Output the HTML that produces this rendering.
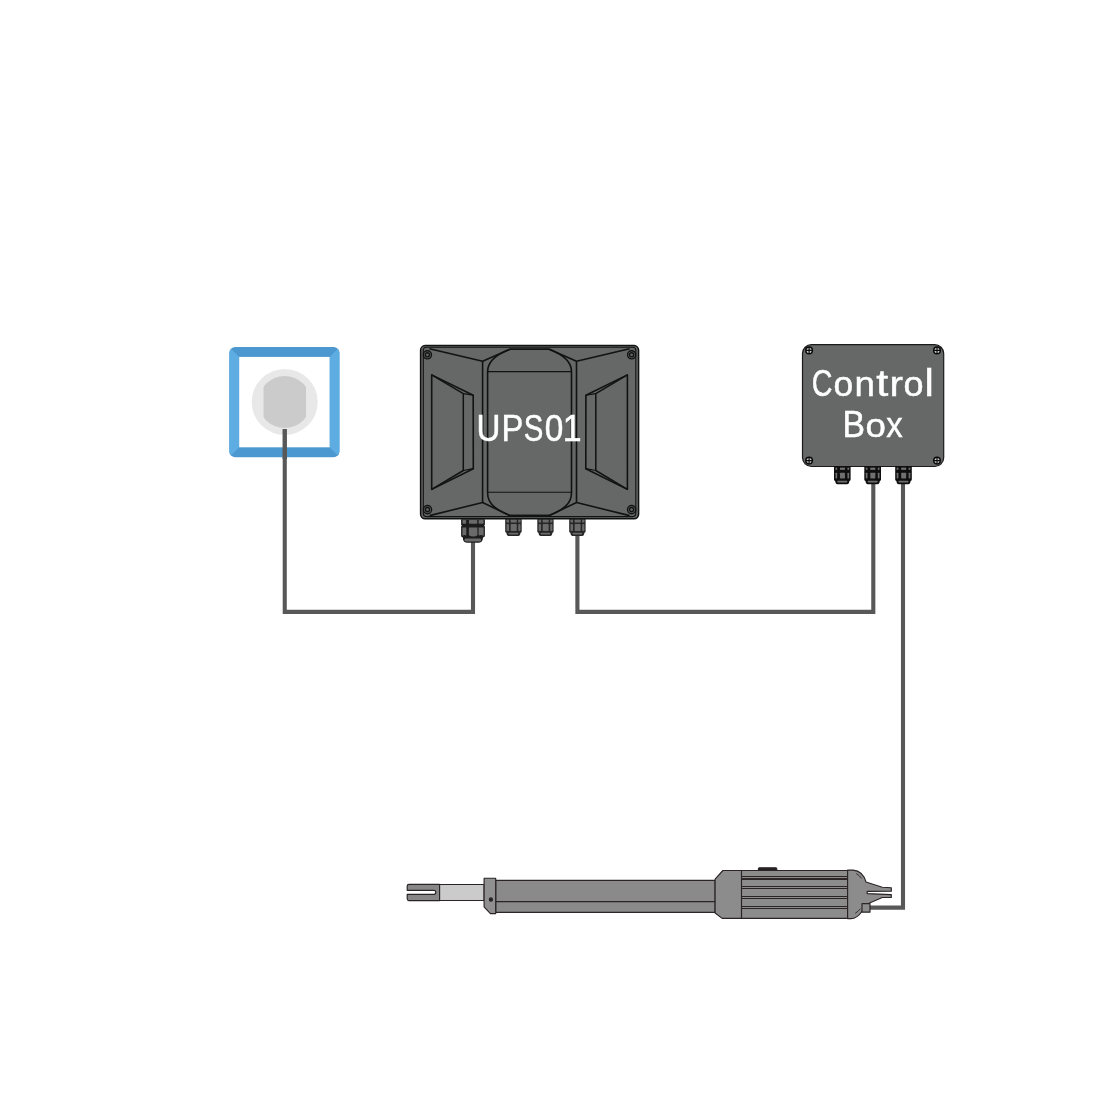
<!DOCTYPE html>
<html><head><meta charset="utf-8">
<style>
html,body{margin:0;padding:0;background:#fff;}
body{width:1101px;height:1101px;overflow:hidden;}
svg{display:block;will-change:transform;}
text{font-family:"Liberation Sans", sans-serif;fill:#fff;}
</style></head>
<body>
<svg width="1101" height="1101" viewBox="0 0 1101 1101">
<!-- wires -->
<g fill="none" stroke="#595858" stroke-width="4.1" stroke-linejoin="miter" stroke-linecap="butt">
  <polyline points="284.75,428 284.75,611.9 473,611.9 473,540"/>
  <polyline points="577.4,534 577.4,611.9 873.3,611.9 873.3,482"/>
  <polyline points="903,482 903,907.6 869,907.6"/>
</g>

<!-- socket -->
<g id="socket">
  <rect x="229.3" y="347" width="110.2" height="110.2" rx="6" fill="#4b97cf"/>
  <clipPath id="sq"><rect x="229.3" y="347" width="110.2" height="110.2" rx="6"/></clipPath>
  <polygon points="229.3,347 239.2,356.9 239.2,447.3 229.3,457.2" fill="#5dade2" clip-path="url(#sq)"/>
  <polygon points="339.5,347 329.6,356.9 329.6,447.3 339.5,457.2" fill="#5dade2" clip-path="url(#sq)"/>
  <rect x="239.2" y="356.9" width="90.4" height="90.4" fill="#fff"/>
  <circle cx="284.7" cy="402" r="33" fill="#e8e8e8"/>
  <clipPath id="sc"><rect x="263.5" y="370" width="42.5" height="65"/></clipPath>
  <circle cx="284.7" cy="402" r="26.1" fill="#cbcbcb" clip-path="url(#sc)"/>
  <rect x="282.55" y="429" width="4.4" height="30" fill="#595858"/>
</g>

<!-- UPS box -->
<g id="ups" stroke="#121212" stroke-linejoin="round">
  <rect x="420.6" y="345.6" width="218" height="173.2" rx="4.5" fill="#656866" stroke-width="1.5"/>
  <rect x="423.3" y="347.2" width="212.5" height="169.4" rx="3" fill="none" stroke-width="1.1"/>
  <g fill="none" stroke-width="1.6">
    <polyline points="429.5,348.7 482.6,361.3 509.9,349.3 549.2,349.3 576.5,361.3 629.6,348.7"/>
    <polyline points="429.5,515.6 482.6,502.5 509.9,515.6 549.2,515.6 576.5,502.5 629.6,515.6"/>
    <line x1="482.6" y1="361.3" x2="482.6" y2="502.5"/>
    <line x1="576.5" y1="361.3" x2="576.5" y2="502.5"/>
    <path d="M487.6,493 L487.6,371.5 C487.6,361 496.5,354.5 509.9,349.3 L549.2,349.3 C562.6,354.5 571.5,361 571.5,371.5 L571.5,493 C571.5,504 562.6,510 549.2,515.6 L509.9,515.6 C496.5,510 487.6,504 487.6,493 Z"/>
    <line x1="487.6" y1="371.6" x2="571.5" y2="371.6" stroke-width="1.1"/>
    <line x1="487.6" y1="492.2" x2="571.5" y2="492.2" stroke-width="1.1"/>
    <!-- left trapezoid -->
    <polygon points="431.7,374.9 473.2,395.2 473.3,468.7 431.7,489.4"/>
    <polyline points="431.7,374.9 463.3,393.6 463.3,470.5 431.7,489.4" stroke-width="1.5"/>
    <path d="M473.2,395.2 L463.3,393.6 M473.3,468.7 L463.3,470.5" stroke-width="1.2"/>
    <!-- right trapezoid -->
    <polygon points="627.4,374.9 585.9,395.2 585.8,468.7 627.4,489.4"/>
    <polyline points="627.4,374.9 595.8,393.6 595.8,470.5 627.4,489.4" stroke-width="1.5"/>
    <path d="M585.9,395.2 L595.8,393.6 M585.8,468.7 L595.8,470.5" stroke-width="1.2"/>
  </g>
  <g fill="none">
    <g stroke-width="1.4"><circle cx="427.4" cy="354.8" r="4.1"/><circle cx="631.6" cy="354.8" r="4.1"/><circle cx="427.5" cy="509.6" r="4.1"/><circle cx="631.6" cy="509.6" r="4.1"/></g>
    <g stroke-width="1.4"><circle cx="427.4" cy="354.8" r="2.1"/><circle cx="631.6" cy="354.8" r="2.1"/><circle cx="427.5" cy="509.6" r="2.1"/><circle cx="631.6" cy="509.6" r="2.1"/></g>
  </g>
</g>


<!-- UPS glands -->
<g id="uglands">
  <path d="M461.1,519.2 H484.9 V524.8 L484.2,525.6 L484.9,526.4 V535.6 Q484.9,537.4 483,537.6 L482.6,540 Q481.8,542.7 479,542.7 H466.7 Q463.9,542.7 463.1,540 L462.9,537.6 Q461.1,537.4 461.1,535.6 V526.4 L461.8,525.6 L461.1,524.8 Z" fill="#1c1c1c"/>
  <g fill="#6a6a6a">
    <rect x="462.4" y="519.9" width="3.8" height="3.9" rx="0.8"/>
    <rect x="468.9" y="519.9" width="8.4" height="3.9" rx="0.8"/>
    <rect x="478.6" y="519.9" width="5" height="3.9" rx="0.8"/>
    <path d="M462.4,527.4 H466.3 V535.4 Q464.5,534.6 462.4,535.8 Z"/>
    <path d="M468.9,527.4 H477.4 V535.2 Q476,536.6 473.2,536.6 Q470.4,536.6 468.9,535.2 Z"/>
    <path d="M478.6,527.4 H483.6 V535.8 Q481.5,534.6 478.6,535.4 Z"/>
    <rect x="464.6" y="538.4" width="16.4" height="3.1" rx="1.2"/>
  </g>
</g>
<g id="uglands2">
  <g><path d="M505.20,518.80 H521.70 V531.45 Q521.70,532.48 520.55,532.82 L520.05,534.70 Q519.39,535.90 518.07,535.90 H508.83 Q507.51,535.90 506.85,534.70 L506.36,532.82 Q505.20,532.48 505.20,531.45 Z" fill="#262626"/><rect x="506.52" y="519.83" width="2.48" height="2.57" rx="0.5" fill="#6a6a6a"/><rect x="506.52" y="524.10" width="2.48" height="6.84" rx="0.8" fill="#6a6a6a"/><rect x="510.64" y="519.83" width="6.11" height="2.57" rx="0.5" fill="#6a6a6a"/><rect x="510.64" y="524.10" width="6.11" height="6.84" rx="0.8" fill="#6a6a6a"/><rect x="518.24" y="519.83" width="2.31" height="2.57" rx="0.5" fill="#6a6a6a"/><rect x="518.24" y="524.10" width="2.31" height="6.84" rx="0.8" fill="#6a6a6a"/><rect x="508.50" y="532.65" width="9.90" height="1.88" rx="0.8" fill="#6a6a6a"/></g>
  <g><path d="M537.30,518.80 H553.60 V531.45 Q553.60,532.48 552.46,532.82 L551.97,534.70 Q551.32,535.90 550.01,535.90 H540.89 Q539.58,535.90 538.93,534.70 L538.44,532.82 Q537.30,532.48 537.30,531.45 Z" fill="#262626"/><rect x="538.60" y="519.83" width="2.45" height="2.57" rx="0.5" fill="#6a6a6a"/><rect x="538.60" y="524.10" width="2.45" height="6.84" rx="0.8" fill="#6a6a6a"/><rect x="542.68" y="519.83" width="6.03" height="2.57" rx="0.5" fill="#6a6a6a"/><rect x="542.68" y="524.10" width="6.03" height="6.84" rx="0.8" fill="#6a6a6a"/><rect x="550.18" y="519.83" width="2.28" height="2.57" rx="0.5" fill="#6a6a6a"/><rect x="550.18" y="524.10" width="2.28" height="6.84" rx="0.8" fill="#6a6a6a"/><rect x="540.56" y="532.65" width="9.78" height="1.88" rx="0.8" fill="#6a6a6a"/></g>
  <g><path d="M569.20,518.80 H585.60 V531.45 Q585.60,532.48 584.45,532.82 L583.96,534.70 Q583.30,535.90 581.99,535.90 H572.81 Q571.50,535.90 570.84,534.70 L570.35,532.82 Q569.20,532.48 569.20,531.45 Z" fill="#262626"/><rect x="570.51" y="519.83" width="2.46" height="2.57" rx="0.5" fill="#6a6a6a"/><rect x="570.51" y="524.10" width="2.46" height="6.84" rx="0.8" fill="#6a6a6a"/><rect x="574.61" y="519.83" width="6.07" height="2.57" rx="0.5" fill="#6a6a6a"/><rect x="574.61" y="524.10" width="6.07" height="6.84" rx="0.8" fill="#6a6a6a"/><rect x="582.16" y="519.83" width="2.30" height="2.57" rx="0.5" fill="#6a6a6a"/><rect x="582.16" y="524.10" width="2.30" height="6.84" rx="0.8" fill="#6a6a6a"/><rect x="572.48" y="532.65" width="9.84" height="1.88" rx="0.8" fill="#6a6a6a"/></g>
</g>

<!-- Control box -->
<g id="cbox" stroke="#1b1b1b">
  <rect x="802.5" y="344.6" width="141.2" height="121.9" rx="9" fill="#656866" stroke-width="1.2"/>
  <g stroke="#0a0a0a">
    <circle cx="809.1" cy="350.4" r="3.3" fill="#c9c9c9" stroke-width="1.5"/><circle cx="937" cy="350.4" r="3.3" fill="#c9c9c9" stroke-width="1.5"/>
    <circle cx="809.1" cy="460.6" r="3.3" fill="#c9c9c9" stroke-width="1.5"/><circle cx="937" cy="460.6" r="3.3" fill="#c9c9c9" stroke-width="1.5"/>
    <path d="M805.8,350.4h6.6M809.1,347.1v6.6M933.7,350.4h6.6M937,347.1v6.6M805.8,460.6h6.6M809.1,457.3v6.6M933.7,460.6h6.6M937,457.3v6.6" stroke-width="1.2"/>
  </g>
</g>
<g id="cglands">
  <g><path d="M834.00,466.00 H850.60 V479.54 Q850.60,480.64 849.44,481.01 L848.94,483.02 Q848.28,484.30 846.95,484.30 H837.65 Q836.32,484.30 835.66,483.02 L835.16,481.01 Q834.00,480.64 834.00,479.54 Z" fill="#0e0e0e"/><rect x="835.49" y="467.65" width="1.66" height="2.20" fill="#6f6f6f"/><rect x="835.49" y="472.77" width="1.66" height="5.67" rx="0.6" fill="#6f6f6f"/><rect x="839.98" y="467.65" width="4.98" height="2.20" fill="#6f6f6f"/><rect x="839.98" y="472.77" width="4.98" height="5.67" rx="0.6" fill="#6f6f6f"/><rect x="847.45" y="467.65" width="1.66" height="2.20" fill="#6f6f6f"/><rect x="847.45" y="472.77" width="1.66" height="5.67" rx="0.6" fill="#6f6f6f"/><rect x="837.32" y="480.82" width="9.96" height="1.65" rx="0.6" fill="#6f6f6f"/></g>
  <g><path d="M864.30,466.00 H881.00 V479.54 Q881.00,480.64 879.83,481.01 L879.33,483.02 Q878.66,484.30 877.33,484.30 H867.97 Q866.64,484.30 865.97,483.02 L865.47,481.01 Q864.30,480.64 864.30,479.54 Z" fill="#0e0e0e"/><rect x="865.80" y="467.65" width="1.67" height="2.20" fill="#6f6f6f"/><rect x="865.80" y="472.77" width="1.67" height="5.67" rx="0.6" fill="#6f6f6f"/><rect x="870.31" y="467.65" width="5.01" height="2.20" fill="#6f6f6f"/><rect x="870.31" y="472.77" width="5.01" height="5.67" rx="0.6" fill="#6f6f6f"/><rect x="877.83" y="467.65" width="1.67" height="2.20" fill="#6f6f6f"/><rect x="877.83" y="472.77" width="1.67" height="5.67" rx="0.6" fill="#6f6f6f"/><rect x="867.64" y="480.82" width="10.02" height="1.65" rx="0.6" fill="#6f6f6f"/></g>
  <g><path d="M895.20,466.00 H911.80 V479.54 Q911.80,480.64 910.64,481.01 L910.14,483.02 Q909.48,484.30 908.15,484.30 H898.85 Q897.52,484.30 896.86,483.02 L896.36,481.01 Q895.20,480.64 895.20,479.54 Z" fill="#0e0e0e"/><rect x="896.69" y="467.65" width="1.66" height="2.20" fill="#6f6f6f"/><rect x="896.69" y="472.77" width="1.66" height="5.67" rx="0.6" fill="#6f6f6f"/><rect x="901.18" y="467.65" width="4.98" height="2.20" fill="#6f6f6f"/><rect x="901.18" y="472.77" width="4.98" height="5.67" rx="0.6" fill="#6f6f6f"/><rect x="908.65" y="467.65" width="1.66" height="2.20" fill="#6f6f6f"/><rect x="908.65" y="472.77" width="1.66" height="5.67" rx="0.6" fill="#6f6f6f"/><rect x="898.52" y="480.82" width="9.96" height="1.65" rx="0.6" fill="#6f6f6f"/></g>
</g>



<!-- actuator -->
<g id="act" stroke="#2a2425" stroke-width="1.15" stroke-linejoin="round">
  <path d="M409,884.3 H439.6 V900.6 H409 Q407.2,900.6 407.2,898.8 V894.3 H434 Q435.8,894.3 435.8,892.3 Q435.8,890.3 434,890.3 H407.2 V886.1 Q407.2,884.3 409,884.3 Z" fill="#878787"/>
  <rect x="439.6" y="884.5" width="44.5" height="16" fill="#cbcbcb"/>
  <rect x="495.7" y="880.3" width="219.4" height="32" fill="#8a8a8a"/>
  <line x1="495.7" y1="901.6" x2="715.1" y2="901.6"/>
  <polygon points="484.1,878.2 495.7,878.2 495.7,913.6 490.4,913.6 484.1,906.8" fill="#909090"/>
  <circle cx="490.9" cy="899.5" r="1.6" fill="#231f20"/>
  <rect x="758.4" y="867.8" width="18.4" height="2.6" rx="1" fill="#231f20"/>
  <polygon points="715.1,879.1 722.9,870.5 847.6,870.5 847.6,918.4 722.1,918.4 715.1,913" fill="#8c8c8c"/>
  <line x1="741.5" y1="870.5" x2="741.5" y2="918.4"/>
  <g stroke-width="1.2">
    <path d="M741.4,876.5H847.6M741.4,886.5H847.6M741.4,888.5H847.6M741.4,896.5H847.6M741.4,898.5H847.6M741.4,906.5H847.6M741.4,908.5H847.6"/>
    <path d="M741.4,879H847.6" stroke-width="2" stroke="#2e2627"/>
  </g>
  <path d="M847.6,870.1 L853,870.1 Q863,871 866,882 L882.3,887.3 L891.3,887.7 L891.3,891.2 L867.2,891.4 L867.2,893.6 L891.3,894.6 L891.3,897.5 L882.3,897.5 L869,903.3 L861.5,912 Q857,918.6 851,918.6 L847.6,918.6 Z" fill="#8c8c8c"/>
  <rect x="862" y="903.6" width="8" height="8.6" fill="#8c8c8c"/>
  <path d="M856.3,873.6 Q859.5,875.5 861.6,878.4 M855.2,913.4 Q858,911.5 860.6,908.6" fill="none" stroke-width="0.9"/>
</g>
<g id="t1">
<text transform="translate(476.39,440.90) scale(0.8821,0.9723)" font-size="37.6" stroke="#fff" stroke-width="0.5">U</text>
<text transform="translate(501.39,440.96) scale(0.8732,0.9708)" font-size="37.6" stroke="#fff" stroke-width="0.5">P</text>
<text transform="translate(523.72,441.00) scale(0.7824,0.9698)" font-size="37.6" stroke="#fff" stroke-width="0.5">S</text>
<text transform="translate(544.69,441.00) scale(0.8873,0.9698)" font-size="37.6" stroke="#fff" stroke-width="0.5">0</text>
<text transform="translate(562.64,440.96) scale(0.9010,0.9746)" font-size="37.6" stroke="#fff" stroke-width="0.5">1</text>
</g>
<g id="t2">
<text transform="translate(811.76,395.50) scale(0.7629,0.9661)" font-size="37.6" stroke="#fff" stroke-width="0.5">C</text>
<text transform="translate(833.50,395.72) scale(0.9430,0.9280)" font-size="37.6" stroke="#fff" stroke-width="0.5">o</text>
<text transform="translate(854.60,395.77) scale(0.9758,0.9157)" font-size="37.6" stroke="#fff" stroke-width="0.5">n</text>
<text transform="translate(876.16,395.71) scale(1.1500,0.9713)" font-size="37.6" stroke="#fff" stroke-width="0.5">t</text>
<text transform="translate(889.48,395.77) scale(1.0740,0.9398)" font-size="37.6" stroke="#fff" stroke-width="0.5">r</text>
<text transform="translate(903.48,395.72) scale(0.9594,0.9280)" font-size="37.6" stroke="#fff" stroke-width="0.5">o</text>
<text transform="translate(924.60,395.75) scale(1.1111,1.0126)" font-size="37.6" stroke="#fff" stroke-width="0.5">l</text>
</g>
<g id="t3">
<text transform="translate(842.42,436.56) scale(0.8976,0.9784)" font-size="37.6" stroke="#fff" stroke-width="0.5">B</text>
<text transform="translate(865.55,436.54) scale(0.9759,0.9044)" font-size="37.6" stroke="#fff" stroke-width="0.5">o</text>
<text transform="translate(886.30,436.57) scale(0.8739,0.9131)" font-size="37.6" stroke="#fff" stroke-width="0.5">x</text>
</g>
</svg>
</body></html>
